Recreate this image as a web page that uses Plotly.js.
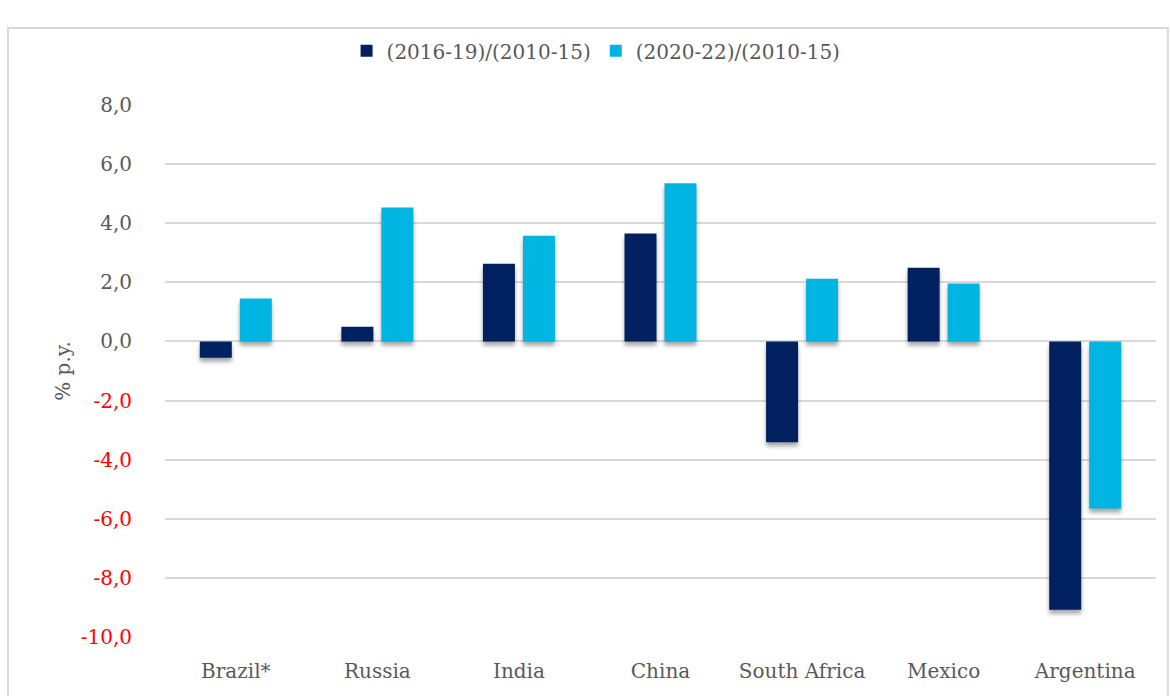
<!DOCTYPE html>
<html><head><meta charset="utf-8">
<script src="https://cdn.plot.ly/plotly-3.0.1.min.js"></script>
<style>
html,body{margin:0;padding:0;background:#fff;}
#chart{width:1170px;height:696px;}
.barlayer path{filter:drop-shadow(0px 4px 2px rgba(0,0,0,0.35));}
</style>
</head><body>
<div id="chart"></div>
<script>
const categories = ["Brazil*", "Russia", "India", "China", "South Africa", "Mexico", "Argentina"];
const series1Name = "(2016-19)/(2010-15)";
const series2Name = "(2020-22)/(2010-15)";
const series1 = [-0.55, 0.5, 2.63, 3.65, -3.41, 2.49, -9.08];
const series2 = [1.45, 4.53, 3.58, 5.35, 2.12, 1.96, -5.65];
const tickVals = [8, 6, 4, 2, 0, -2, -4, -6, -8, -10];
const tickLabels = ["8,0", "6,0", "4,0", "2,0", "0,0", "-2,0", "-4,0", "-6,0", "-8,0", "-10,0"];

const fontFam = "DejaVu Serif, serif";
const fs = 20;
const tickText = tickLabels.map((t, i) => tickVals[i] < 0 ? '<span style="color:#FF0000">' + t + '</span>' : t);

const data = [
  {type: 'bar', name: series1Name, x: categories, y: series1, marker: {color: '#002060'}},
  {type: 'bar', name: series2Name, x: categories, y: series2, marker: {color: '#00B5E2'}}
];

const layout = {
  width: 1170, height: 696,
  margin: {l: 165, r: 14, t: 105, b: 59},
  paper_bgcolor: '#fff', plot_bgcolor: '#fff',
  font: {family: fontFam, size: fs, color: '#595959'},
  barmode: 'group', bargap: 0.435, bargroupgap: 0.2,
  showlegend: true,
  legend: {orientation: 'h', x: 0.435, xanchor: 'center', y: 1.102, yanchor: 'middle',
           font: {family: fontFam, size: fs, color: '#595959'}, itemwidth: 30, traceorder: 'normal'},
  xaxis: {type: 'category', showgrid: false, zeroline: false, showline: false,
          ticks: 'outside', ticklen: 16, tickcolor: 'rgba(0,0,0,0)',
          tickfont: {family: fontFam, size: fs, color: '#595959'}},
  yaxis: {range: [-10, 8], tickvals: tickVals, ticktext: tickText,
          showgrid: true, gridcolor: '#D9D9D9', gridwidth: 2,
          zeroline: false, showline: false,
          ticks: 'outside', ticklen: 28, tickcolor: 'rgba(0,0,0,0)',
          tickfont: {family: fontFam, size: fs, color: '#595959'},
          title: {text: '% p.y.', font: {family: fontFam, size: fs, color: '#595959'}, standoff: 4},
          automargin: false},
  shapes: [{type: 'rect', xref: 'paper', yref: 'paper', x0: -0.1584, x1: 1.012, y0: -0.3, y1: 1.1447,
            line: {color: '#D9D9D9', width: 2}, fillcolor: 'rgba(0,0,0,0)', layer: 'below'}]
};

Plotly.newPlot('chart', data, layout, {displayModeBar: false, staticPlot: true});
</script>
</body></html>
